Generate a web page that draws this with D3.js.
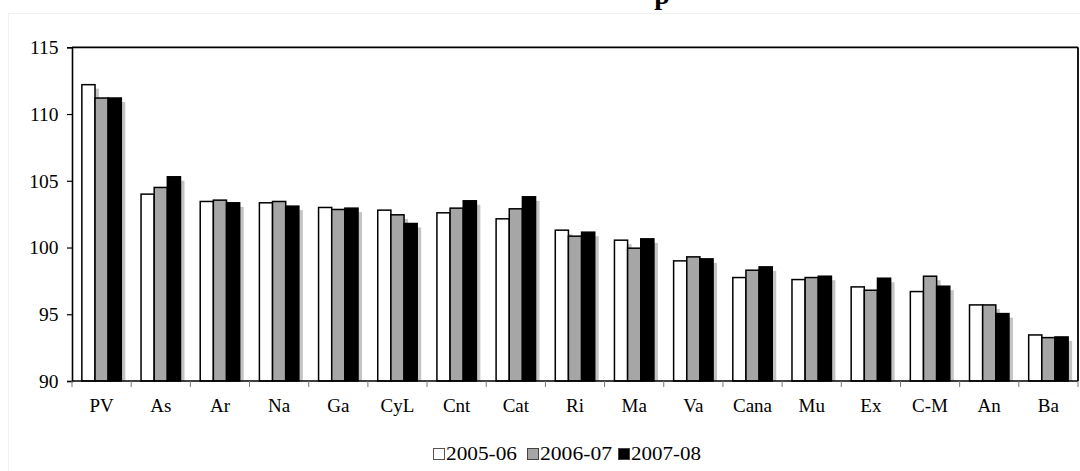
<!DOCTYPE html>
<html><head><meta charset="utf-8">
<script src="https://cdn.jsdelivr.net/npm/d3@7"></script>
<style>
html,body{margin:0;padding:0;background:#fff;}
svg{display:block;font-family:"Liberation Serif","Times New Roman",serif;}
svg text{font-family:"Liberation Serif","Times New Roman",serif !important;}
</style></head>
<body>
<svg id="c" width="1080" height="471"></svg>
<script>
const categories = ["PV","As","Ar","Na","Ga","CyL","Cnt","Cat","Ri","Ma","Va","Cana","Mu","Ex","C-M","An","Ba"];
const seriesNames = ["2005-06","2006-07","2007-08"];
const s2005 = [112.2,104.0,103.45,103.35,103.0,102.8,102.6,102.15,101.3,100.55,99.0,97.75,97.6,97.05,96.7,95.7,93.45];
const s2006 = [111.2,104.5,103.55,103.45,102.85,102.45,102.95,102.9,100.85,99.95,99.3,98.3,97.75,96.8,97.85,95.7,93.25];
const s2007 = [111.2,105.3,103.35,103.1,102.95,101.8,103.5,103.8,101.15,100.65,99.15,98.55,97.85,97.7,97.1,95.05,93.3];
const yTicks = [90,95,100,105,110,115];
const fills = ["#ffffff","#a6a6a6","#000000"];

const seriesVals = [s2005,s2006,s2007];
const svg = d3.select("#c");
const FONT = "'Liberation Serif','Times New Roman',serif";

// faint outer frame
svg.append("rect").attr("x",8.5).attr("y",13.5).attr("width",1200).attr("height",600)
  .attr("fill","none").attr("stroke","#f0f0f0").attr("stroke-width",1);

// clipped title descender (title runs off the top of the picture in the reference)
svg.append("text").attr("x",662).attr("y",4).attr("text-anchor","middle")
  .attr("font-size",28).attr("font-weight","bold").text("p");

const L=72, R=1078, T=47.3, B=381;
const x = d3.scaleBand().domain(categories).range([L,R]).padding(0);
const x1 = d3.scaleBand().domain(seriesNames).range([0,x.bandwidth()]).paddingInner(0).paddingOuter(0.75);
const y = d3.scaleLinear().domain([90,115]).range([B,T]);

const data = categories.map((c,i)=>({cat:c, vals:seriesNames.map((s,j)=>({s, v:seriesVals[j][i], j}))}));

// shadows
const gS = svg.append("g");
data.forEach(d=>{
  d.vals.forEach(o=>{
    gS.append("rect")
      .attr("x", x(d.cat)+x1(o.s)+4).attr("y", y(o.v)+4)
      .attr("width", x1.bandwidth()).attr("height", B - y(o.v) - 4)
      .attr("fill","#c4c4c4");
  });
});
// bars
const gB = svg.append("g");
data.forEach(d=>{
  d.vals.forEach(o=>{
    gB.append("rect")
      .attr("x", x(d.cat)+x1(o.s)).attr("y", y(o.v))
      .attr("width", x1.bandwidth()).attr("height", B - y(o.v))
      .attr("fill", fills[o.j]).attr("stroke","#000").attr("stroke-width",1.5);
  });
});

// frame top/right
svg.append("line").attr("x1",L).attr("x2",R).attr("y1",T).attr("y2",T).attr("stroke","#000").attr("stroke-width",1.8);
svg.append("line").attr("x1",R).attr("x2",R).attr("y1",T).attr("y2",B).attr("stroke","#000").attr("stroke-width",1.8);

// y axis
const yAxis = d3.axisLeft(y).tickValues(yTicks).tickSize(5).tickPadding(8.5).tickFormat(d3.format("d"));
const gy = svg.append("g").attr("transform",`translate(${L},0)`).call(yAxis)
  .attr("font-family",FONT).attr("font-size",19.5);
gy.select(".domain").attr("stroke","#000").attr("stroke-width",1.6);
gy.selectAll(".tick line").attr("stroke","#000").attr("stroke-width",1.2);
gy.selectAll(".tick text").attr("fill","#000").style("font-family",FONT).style("font-size","19.5px");

// x axis
const gx = svg.append("g").attr("transform",`translate(0,${B})`);
gx.append("line").attr("x1",L).attr("x2",R).attr("stroke","#000").attr("stroke-width",1.6);
const bounds = categories.map(c=>x(c)).concat([R]);
gx.selectAll("line.t").data(bounds).enter().append("line").attr("class","t")
  .attr("x1",d=>d).attr("x2",d=>d).attr("y1",0).attr("y2",6).attr("stroke","#777").attr("stroke-width",1);
gx.selectAll("text").data(categories).enter().append("text")
  .attr("x",d=>x(d)+x.bandwidth()/2).attr("y",31).attr("text-anchor","middle")
  .attr("font-size",19).attr("fill","#000").text(d=>d);

// legend
const legX = [433,527,618];
const legW = [71,72,70];
const lg = svg.append("g");
seriesNames.forEach((s,i)=>{
  lg.append("rect").attr("x",legX[i]+0.5).attr("y",448.5).attr("width",11).attr("height",11)
    .attr("fill",fills[i]).attr("stroke", i==0?"#555":"#444").attr("stroke-width",1);
  lg.append("text").attr("x",legX[i]+13).attr("y",460).attr("font-size",18)
    .attr("textLength",legW[i]).attr("lengthAdjust","spacingAndGlyphs")
    .attr("fill","#000").text(s);
});
</script>
</body></html>
